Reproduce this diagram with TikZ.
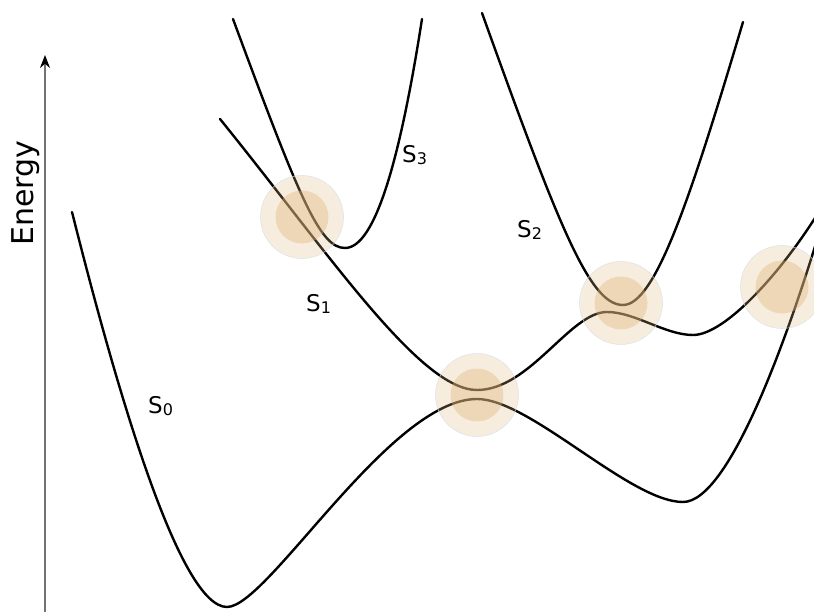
\documentclass[tikz,border=0pt]{standalone}
\usepackage{fontspec}
\setmainfont{DejaVu Sans}
\usepackage{tikz}
\usetikzlibrary{arrows.meta}
\usetikzlibrary{positioning}

\definecolor{glow}{RGB}{223,183,123}
\definecolor{rim}{RGB}{214,224,229}
\definecolor{axisgray}{RGB}{115,115,115}

% state label: S with a small index
\newcommand{\surf}[1]{S\raisebox{-2pt}{\fontsize{16}{18}\selectfont #1}}

\tikzset{
  pes/.style={line width=2.4pt, line cap=round},
  axisline/.style={line width=1.4pt, axisgray, -{Stealth[length=13pt, width=10pt, black]}},
  slabel/.style={anchor=base west, inner sep=0pt, font=\fontsize{23}{26}\selectfont},
  halo/.style={circle, fill=glow, inner sep=0pt, minimum size=#1}
}

\begin{document}
\begin{tikzpicture}[x=1pt, y=-1pt]
  \useasboundingbox (0,0) rectangle (814,612);
  \clip (0,0) rectangle (814,612);

  % energy axis
  \coordinate (ybot) at (45,612);
  \coordinate (ytop) at (45,55);
  \draw[axisline] (ybot) -- (ytop);
  \node[rotate=90, anchor=base, inner sep=0pt, font=\fontsize{30}{34}\selectfont] (elabel) at (33,193) {Energy};

  % S0: two minima with a barrier in between
  \draw[pes] (72,212) .. controls (118,395) and (180,607) .. (227,607)
    .. controls (268,607) and (390,399) .. (477,399)
    .. controls (530,399) and (630,502) .. (683,502)
    .. controls (730,502) and (790,330) .. (820,230);
  % S1
  \draw[pes] (220,119) .. controls (330,255) and (420,390) .. (477,390)
    .. controls (530,390) and (570,312) .. (607,312)
    .. controls (635,312) and (665,335) .. (693,335)
    .. controls (725,335) and (782,272) .. (820,210);
  % S2
  \draw[pes] (482,13) .. controls (560,230) and (590,305) .. (623,305)
    .. controls (655,305) and (690,200) .. (743,22);
  % S3
  \draw[pes] (233,19) .. controls (300,200) and (320,248) .. (345,248)
    .. controls (375,248) and (400,160) .. (422,19);

  % crossing regions
  \foreach \x/\y/\n in {302/217/a, 477/395/b, 621/303/c, 782/287/d} {
    \node[halo=83pt, fill opacity=0.25, draw=rim, draw opacity=0.8, line width=0.6pt] (out\n) at (\x,\y) {};
    \node[halo=53pt, fill opacity=0.4] (in\n) at (\x,\y) {};
  }

  % labels
  \node[slabel] (s0) at (148,413) {\surf{0}};
  \node[slabel] (s1) at (306,312) {\surf{1}};
  \node[slabel] (s2) at (517,238) {\surf{2}};
  \node[slabel] (s3) at (402,163) {\surf{3}};
\end{tikzpicture}
\end{document}
